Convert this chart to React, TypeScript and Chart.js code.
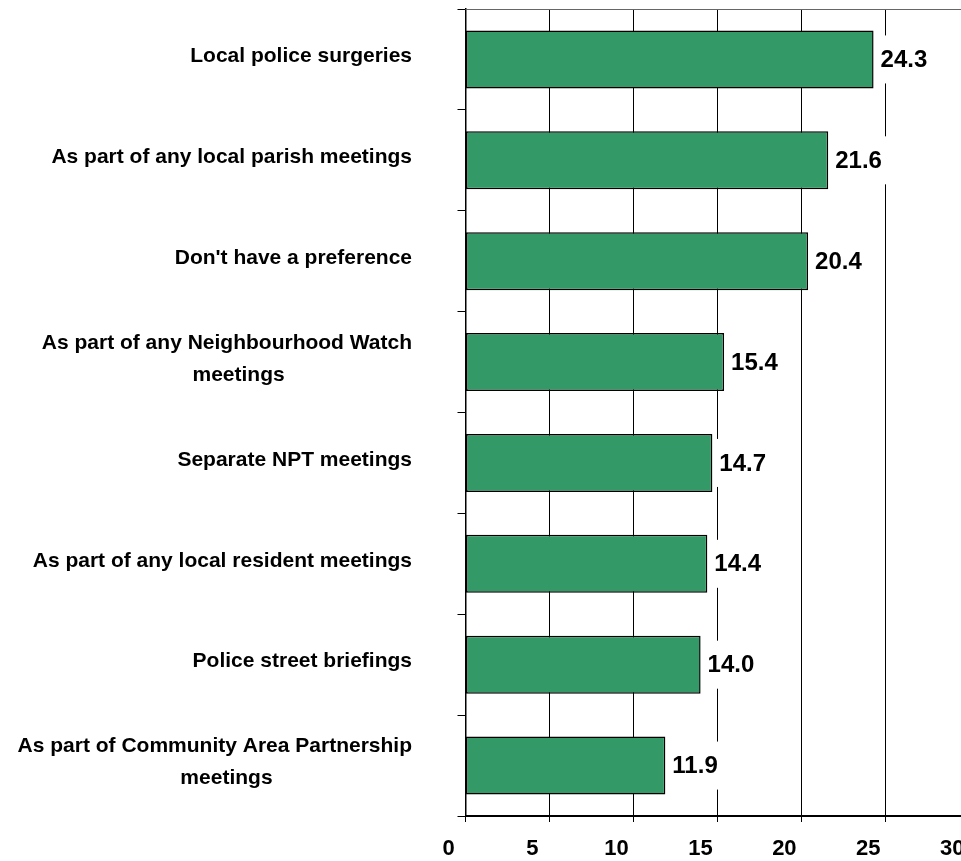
import React, { useEffect, useRef } from 'react';
import { Chart, registerables } from 'chart.js';

Chart.register(...registerables);

const categories: (string | string[])[] = [
  'Local police surgeries',
  'As part of any local parish meetings',
  "Don't have a preference",
  ['As part of any Neighbourhood Watch', '    meetings'],
  'Separate NPT meetings',
  'As part of any local resident meetings',
  'Police street briefings',
  ['As part of Community Area Partnership', '    meetings'],
];
const values = [24.3, 21.6, 20.4, 15.4, 14.7, 14.4, 14.0, 11.9];
const xMin = 0;
const xMax = 30;
const xStep = 5;

const FONT = '"Liberation Sans", Arial, Helvetica, sans-serif';

const topBorderPlugin = {
  id: 'topBorder',
  afterDraw(chart: any) {
    const { ctx, chartArea } = chart;
    ctx.save();
    ctx.strokeStyle = '#666';
    ctx.lineWidth = 1;
    ctx.beginPath();
    ctx.moveTo(chartArea.left, Math.round(chartArea.top) + 0.5);
    ctx.lineTo(chartArea.right, Math.round(chartArea.top) + 0.5);
    ctx.stroke();
    ctx.restore();
  },
};

const valueLabelPlugin = {
  id: 'valueLabels',
  afterDatasetsDraw(chart: any) {
    const { ctx } = chart;
    const meta = chart.getDatasetMeta(0);
    ctx.save();
    ctx.font = `bold 24px ${FONT}`;
    meta.data.forEach((bar: any, i: number) => {
      const txt = values[i].toFixed(1);
      const w = ctx.measureText(txt).width;
      ctx.fillStyle = '#fff';
      ctx.fillRect(bar.x + 2, bar.y - 24, w + 12, 48);
      ctx.fillStyle = '#000';
      ctx.textAlign = 'left';
      ctx.textBaseline = 'middle';
      ctx.fillText(txt, bar.x + 7, bar.y + 1);
    });
    ctx.restore();
  },
};

const categoryLabelPlugin = {
  id: 'categoryLabels',
  afterDraw(chart: any) {
    const { ctx } = chart;
    const yScale = chart.scales.y;
    const right = 412;
    const lineH = 32;
    ctx.save();
    ctx.font = `bold 21px ${FONT}`;
    ctx.fillStyle = '#000';
    ctx.textBaseline = 'middle';
    ctx.textAlign = 'center';
    categories.forEach((lab, i) => {
      const lines = Array.isArray(lab) ? lab : [lab];
      const maxW = Math.max(...lines.map((l) => ctx.measureText(l.trim()).width));
      const cx = right - maxW / 2;
      const yc = yScale.getPixelForValue(i) - 3;
      const y0 = yc - ((lines.length - 1) * lineH) / 2;
      lines.forEach((l, k) => {
        ctx.fillText(l, cx, y0 + k * lineH);
      });
    });
    ctx.restore();
  },
};

export default function App() {
  const ref = useRef<HTMLCanvasElement>(null);

  useEffect(() => {
    if (!ref.current) return;
    const chart = new Chart(ref.current, {
      type: 'bar',
      data: {
        labels: categories as any,
        datasets: [
          {
            data: values,
            backgroundColor: '#339966',
            borderColor: '#000',
            borderWidth: 1.5,
            borderSkipped: false,
            barPercentage: 0.575,
            categoryPercentage: 1,
          },
        ],
      },
      options: {
        indexAxis: 'y',
        animation: false,
        responsive: false,
        devicePixelRatio: 1,
        layout: { padding: { top: 9, right: 10.7, left: 0, bottom: 0 } },
        plugins: {
          legend: { display: false },
          tooltip: { enabled: false },
          title: { display: false },
        },
        scales: {
          x: {
            type: 'linear',
            min: xMin,
            max: xMax,
            ticks: {
              stepSize: xStep,
              labelOffset: -17,
              padding: 14,
              color: '#000',
              font: { size: 22, weight: 'bold', family: FONT },
            },
            grid: { color: '#000', lineWidth: 1, tickLength: 6, drawTicks: true },
            border: { color: '#000', width: 2 },
            afterFit: (s: any) => {
              s.height = 45;
              s.paddingLeft = 0;
              s.paddingRight = 0;
            },
          },
          y: {
            type: 'category',
            ticks: { display: false },
            grid: { drawOnChartArea: false, drawTicks: true, tickLength: 8, color: '#000', offset: true },
            border: { color: '#000', width: 1.5 },
            afterFit: (s: any) => {
              s.width = 465.5;
            },
          },
        },
      } as any,
      plugins: [topBorderPlugin, valueLabelPlugin, categoryLabelPlugin],
    });
    return () => chart.destroy();
  }, []);

  return (
    <div
      style={{
        position: 'fixed',
        left: 0,
        top: 0,
        width: 961,
        height: 861,
        overflow: 'hidden',
        background: '#fff',
      }}
    >
      <canvas ref={ref} width={980} height={861} style={{ display: 'block' }} />
    </div>
  );
}
